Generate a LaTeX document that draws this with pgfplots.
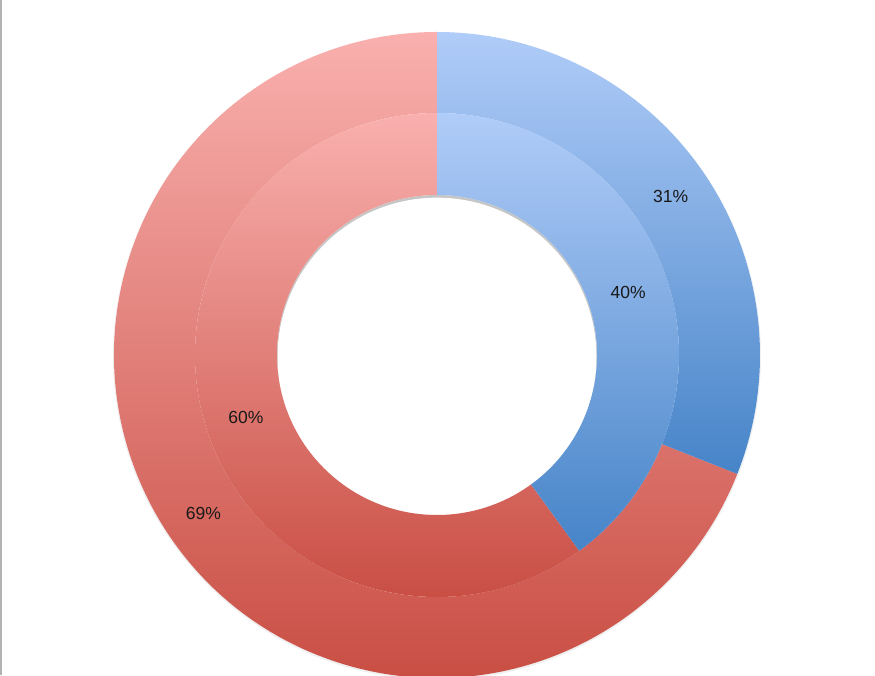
\documentclass[border=0pt]{standalone}
\usepackage{pgfplots}
\pgfplotsset{compat=1.18}
\usepackage{pgfplotstable}
\usepackage{fontspec}
\setmainfont{Liberation Sans}

\definecolor{redtop}{HTML}{F9B0AE}
\definecolor{redbot}{HTML}{C6483D}
\definecolor{bluetop}{HTML}{B0CCF8}
\definecolor{bluebot}{HTML}{4684C8}

% share of each ring, in per cent
\pgfplotstableread{
ring  rin  rout  blue  red
outer 242  323   31    69
inner 160  242   40    60
}\ringdata

\tikzset{lbl/.style={font=\fontsize{17.5}{20}\selectfont, text=black!90}}

% \sector{r in}{r out}{start angle}{end angle}{top colour}{bottom colour}
\newcommand{\sector}[6]{%
  \path[top color=#5, bottom color=#6, draw=none]
    ([shift={(#3:#2pt)}]c) arc[start angle=#3, end angle=#4, radius=#2pt]
    -- ([shift={(#4:#1pt)}]c) arc[start angle=#4, end angle=#3, radius=#1pt]
    -- cycle;}

% commands inside an axis are run at its end, so expand the values now
\newcommand{\ring}[1]{%
  \pgfplotstablegetelem{#1}{rin}\of\ringdata \let\rin\pgfplotsretval
  \pgfplotstablegetelem{#1}{rout}\of\ringdata \let\rout\pgfplotsretval
  \pgfplotstablegetelem{#1}{blue}\of\ringdata \let\vblue\pgfplotsretval
  \pgfplotstablegetelem{#1}{red}\of\ringdata \let\vred\pgfplotsretval
  \pgfmathsetmacro\splitang{90-3.6*\vblue}
  \pgfmathsetmacro\rmid{(\rin+\rout)/2}
  \pgfmathsetmacro\amb{90-1.8*\vblue}
  \pgfmathsetmacro\amr{\splitang-1.8*\vred}
  \edef\temp{%
    \noexpand\sector{\rin}{\rout}{\splitang}{-270}{redtop}{redbot}%
    \noexpand\sector{\rin}{\rout}{90}{\splitang}{bluetop}{bluebot}%
    \noexpand\node[lbl] at ([shift={(\amb:\rmid pt)}]c) {\vblue\noexpand\%};%
    \noexpand\node[lbl] at ([shift={(\amr:\rmid pt)}]c) {\vred\noexpand\%};%
  }%
  \temp
}

\begin{document}
\begin{tikzpicture}
\begin{axis}[
    width=875pt, height=675pt,
    xmin=0, xmax=875, ymin=0, ymax=675,
    hide axis,
    scale only axis,
]
\addplot[draw=gray!60, line width=1.2pt] coordinates {(1,0) (1,675)};
\coordinate (c) at (axis cs:437,320);
% soft shadows round the rings
\fill[gray!12] ([yshift=-1pt]c) circle[radius=324pt];
\fill[white] ([yshift=0.8pt]c) circle[radius=323pt];
\fill[gray!45] (c) circle[radius=160pt];
\fill[white] ([yshift=-2.2pt]c) circle[radius=159.5pt];
\ring{0}
\ring{1}
\end{axis}
\pgfresetboundingbox
\useasboundingbox (current axis.south west) rectangle (current axis.north east);
\end{tikzpicture}
\end{document}
